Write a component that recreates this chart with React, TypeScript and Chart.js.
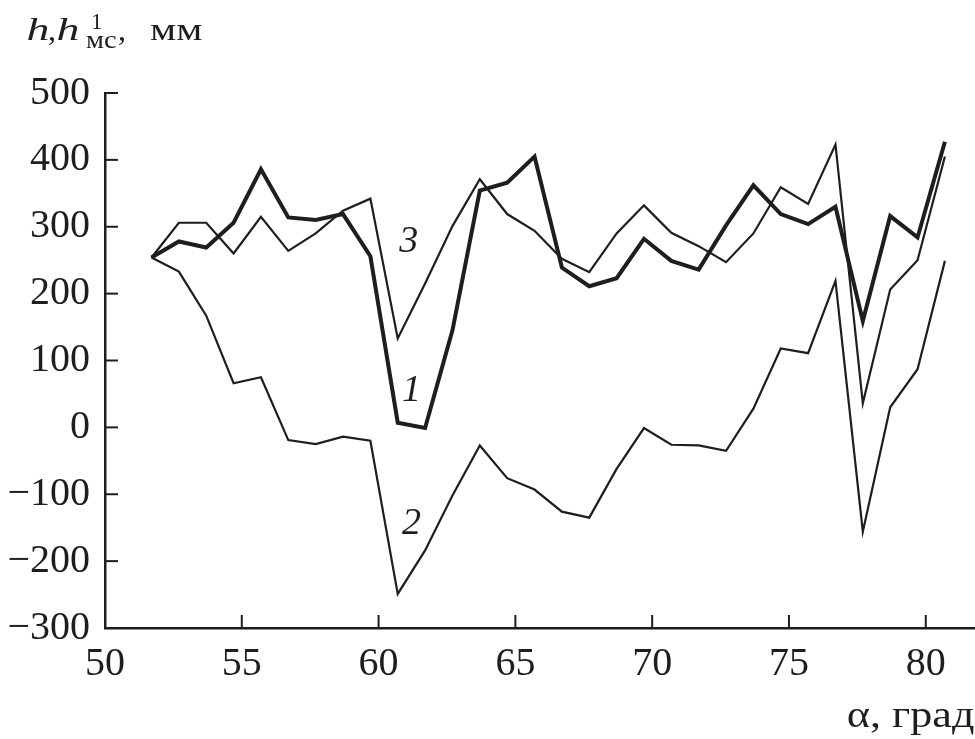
import React, { useEffect, useRef } from 'react';
import { Chart, registerables } from 'chart.js';
Chart.register(...registerables);

const alpha = [51.7, 52.7, 53.7, 54.7, 55.7, 56.7, 57.7, 58.7, 59.7, 60.7, 61.7, 62.7, 63.7, 64.7, 65.7, 66.7, 67.7, 68.7, 69.7, 70.7, 71.7, 72.7, 73.7, 74.7, 75.7, 76.7, 77.7, 78.7, 79.7, 80.7];
const series1 = [254, 278, 269, 306, 386, 314, 310, 319, 256, 7, -1, 145, 354, 366, 405, 239, 211, 223, 282, 249, 236, 302, 362, 319, 304, 330, 159, 316, 284, 427];
const series2 = [254, 233, 167, 66, 75, -19, -25, -14, -20, -249, -184, -102, -27, -76, -93, -126, -135, -62, -1, -26, -27, -35, 28, 118, 111, 219, -156, 30, 87, 249];
const series3 = [254, 306, 306, 260, 315, 264, 290, 324, 342, 133, 215, 301, 371, 319, 294, 252, 232, 290, 332, 291, 271, 247, 290, 359, 334, 423, 36, 206, 250, 405];
const xTicks = [50, 55, 60, 65, 70, 75, 80];
const yTicks = [-300, -200, -100, 0, 100, 200, 300, 400, 500];
const curveLabelText = ['1', '2', '3'];
const curveLabelX = [61.2, 61.2, 61.1];
const curveLabelY = [54, -145, 277];
const xTitle = 'α, град';

const INK = '#1e1e1e';
const SERIF = '"Liberation Serif", "DejaVu Serif", serif';

function fitText(ctx: any, text: string, x0: number, x1: number, baseline: number, font: string) {
  ctx.save();
  ctx.font = font;
  ctx.textAlign = 'left';
  ctx.textBaseline = 'alphabetic';
  const m = ctx.measureText(text);
  const w = (m.actualBoundingBoxRight || m.width) + (m.actualBoundingBoxLeft || 0);
  const sx = w > 0 ? (x1 - x0) / w : 1;
  ctx.translate(x0, baseline);
  ctx.scale(sx, 1);
  ctx.fillText(text, m.actualBoundingBoxLeft || 0, 0);
  ctx.restore();
}

function plainText(ctx: any, text: string, x: number, baseline: number, font: string) {
  ctx.save();
  ctx.font = font;
  ctx.textAlign = 'left';
  ctx.textBaseline = 'alphabetic';
  ctx.fillText(text, x, baseline);
  ctx.restore();
}

const decorPlugin = {
  id: 'decor',
  afterDraw(chart: any) {
    const ctx = chart.ctx;
    const xs = chart.scales.x;
    const ys = chart.scales.y;
    const area = chart.chartArea;
    ctx.save();
    ctx.strokeStyle = INK;
    ctx.lineWidth = 2;
    xTicks.forEach((v) => {
      const px = xs.getPixelForValue(v);
      ctx.beginPath();
      ctx.moveTo(px, area.bottom);
      ctx.lineTo(px, area.bottom - 13);
      ctx.stroke();
    });
    yTicks.forEach((v) => {
      const py = ys.getPixelForValue(v);
      ctx.beginPath();
      ctx.moveTo(area.left, py);
      ctx.lineTo(area.left + 13, py);
      ctx.stroke();
    });
    ctx.fillStyle = INK;
    ctx.font = 'italic 38px ' + SERIF;
    ctx.textAlign = 'center';
    ctx.textBaseline = 'middle';
    curveLabelText.forEach((t, i) => {
      ctx.fillText(t, xs.getPixelForValue(curveLabelX[i]), ys.getPixelForValue(curveLabelY[i]));
    });
    // y-axis header: h, h^1_мс, мм
    const big = '32px ' + SERIF;
    const bigI = 'italic 32px ' + SERIF;
    fitText(ctx, 'h', 28, 48, 40, bigI);
    plainText(ctx, ',', 48, 40, big);
    fitText(ctx, 'h', 58, 78, 40, bigI);
    plainText(ctx, '1', 91, 29, '23px ' + SERIF);
    fitText(ctx, 'мс', 86, 116, 48, '26px ' + SERIF);
    plainText(ctx, ',', 118, 40, big);
    fitText(ctx, 'мм', 150, 202, 40, big);
    // x-axis title
    fitText(ctx, xTitle, 848, 974, 727, '38px ' + SERIF);
    ctx.restore();
  },
};

export default function App() {
  const ref = useRef<HTMLCanvasElement | null>(null);
  useEffect(() => {
    document.body.style.margin = '0';
    const ds = (vals: number[], w: number) => ({
      data: alpha.map((a, i) => ({ x: a, y: vals[i] })),
      borderColor: INK,
      borderWidth: w,
      pointRadius: 0,
      fill: false,
      tension: 0,
    });
    const chart = new Chart(ref.current as HTMLCanvasElement, {
      type: 'line',
      data: {
        datasets: [ds(series2, 2.2), ds(series3, 2.2), ds(series1, 4)],
      },
      options: {
        animation: false,
        responsive: false,
        maintainAspectRatio: false,
        layout: { padding: { top: 93, right: 0, left: 0, bottom: 0 } },
        plugins: { legend: { display: false }, tooltip: { enabled: false } },
        scales: {
          x: {
            type: 'linear',
            min: 50,
            max: 81.8,
            afterBuildTicks: (s: any) => {
              s.ticks = xTicks.map((v) => ({ value: v }));
            },
            afterFit: (s: any) => {
              s.height = 111;
            },
            grid: { display: true, drawOnChartArea: false, drawTicks: false },
            border: { display: true, color: INK, width: 2.5 },
            ticks: {
              color: INK,
              font: { family: SERIF, size: 40 },
              padding: 12,
              maxRotation: 0,
              autoSkip: false,
            },
          },
          y: {
            type: 'linear',
            min: -300,
            max: 500,
            afterBuildTicks: (s: any) => {
              s.ticks = yTicks.map((v) => ({ value: v }));
            },
            afterFit: (s: any) => {
              s.width = 105;
            },
            grid: { display: true, drawOnChartArea: false, drawTicks: false },
            border: { display: true, color: INK, width: 2.5 },
            ticks: {
              color: INK,
              font: { family: SERIF, size: 40 },
              padding: 15,
              callback: (v: any) => (Number(v) < 0 ? '\u2212' + Math.abs(Number(v)) : String(v)),
            },
          },
        },
      },
      plugins: [decorPlugin],
    });
    return () => chart.destroy();
  }, []);
  return (
    <div style={{ width: 975, height: 739, background: '#fff' }}>
      <canvas ref={ref} width={975} height={739} style={{ display: 'block' }} />
    </div>
  );
}
